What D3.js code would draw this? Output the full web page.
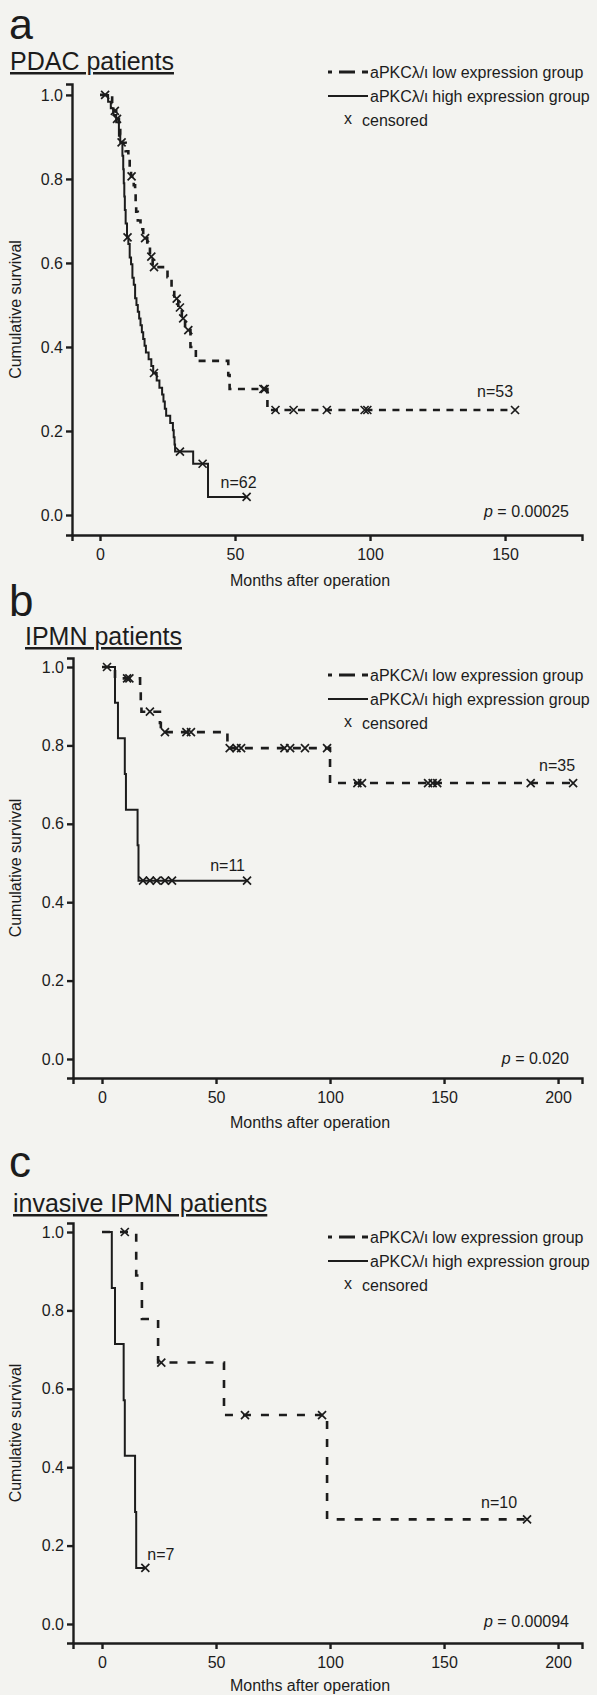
<!DOCTYPE html>
<html>
<head>
<meta charset="utf-8">
<script src="https://cdn.jsdelivr.net/npm/d3@7"></script>
<style>
  body { margin: 0; background: #f3f3f0; }
  svg { display: block; }
  text { font-family: Arial, "Liberation Sans", sans-serif; fill: #1c1c1c; }
  .axis path, .axis line { stroke: #1c1c1c; stroke-width: 2.4; }
  .axis text { font-size: 16px; }
</style>
</head>
<body>
<div id="chart"></div>
<script>
// ---- data ----
var panelLetters = ["a", "b", "c"];
var panelTitles = ["PDAC patients", "IPMN patients", "invasive IPMN patients"];
var pValues = ["0.00025", "0.020", "0.00094"];
var nLow = ["n=53", "n=35", "n=10"];
var nHigh = ["n=62", "n=11", "n=7"];
var xTicksA = [0, 50, 100, 150];
var xTicksBC = [0, 50, 100, 150, 200];
var yTicks = [0, 0.2, 0.4, 0.6, 0.8, 1.0];
var legendLabels = ["aPKC\u03bb/\u03b9 low expression group", "aPKC\u03bb/\u03b9 high expression group", "censored"];

// step curves: [month, survival after the step]
var pdacLow = [[0, 1.0], [4.5, 0.981], [5, 0.962], [6, 0.943], [7, 0.924], [7.5, 0.905], [8, 0.886],
  [9.5, 0.866], [10.5, 0.846], [11, 0.826], [11.5, 0.806], [12.5, 0.785], [13, 0.764], [13.2, 0.743],
  [13.4, 0.722], [14, 0.701], [15, 0.680], [16, 0.659], [17.5, 0.637], [18.5, 0.615], [19.5, 0.590],
  [25, 0.566], [26.5, 0.541], [27.5, 0.515], [29, 0.494], [30.3, 0.468], [31.5, 0.440], [33.5, 0.400],
  [35.5, 0.367], [47.5, 0.333], [48, 0.300], [62, 0.250]];
var pdacLowCensor = [1.9, 5.5, 6.3, 11.7, 16.7, 19, 20, 28.4, 29.6, 30.8, 32.7, 60.5, 61, 65, 71.7, 84, 98, 99, 153.7];
var pdacHigh = [[0, 1.0], [3, 0.984], [4, 0.968], [5, 0.952], [6, 0.935], [7, 0.903], [7.5, 0.887],
  [8.3, 0.855], [8.6, 0.823], [8.8, 0.790], [9.0, 0.758], [9.2, 0.726], [9.5, 0.694], [10, 0.661],
  [10.5, 0.645], [11, 0.613], [11.5, 0.597], [12, 0.565], [12.5, 0.548], [13, 0.516], [13.5, 0.500],
  [14, 0.484], [14.5, 0.468], [15, 0.452], [15.5, 0.435], [16, 0.419], [16.5, 0.403], [17, 0.387],
  [18, 0.371], [19, 0.355], [19.7, 0.338], [21, 0.320], [22, 0.303], [23, 0.287], [23.5, 0.270],
  [24, 0.253], [24.5, 0.236], [26, 0.219], [27, 0.202], [27.3, 0.185], [27.6, 0.168], [27.8, 0.151],
  [34.5, 0.122], [40, 0.043]];
var pdacHighCensor = [8, 10.2, 20, 29.6, 38, 54.3];

var ipmnLow = [[0, 1.0], [5.7, 0.971], [16.7, 0.943], [17, 0.914], [17.3, 0.886], [25.4, 0.857],
  [25.8, 0.834], [55, 0.793], [100, 0.704]];
var ipmnLowCensor = [2.2, 11, 12, 21, 27.6, 37, 39, 56, 59, 61, 80, 82.5, 89, 98.7, 112, 114, 143, 145, 147, 188, 206.6];
var ipmnHigh = [[0, 1.0], [5.7, 0.909], [7, 0.818], [10, 0.727], [10.5, 0.636], [15.6, 0.545], [16, 0.455]];
var ipmnHighCensor = [18, 21, 24, 27.6, 30.7, 63.6];

var invLow = [[0, 1.0], [15, 0.889], [17.5, 0.778], [24.6, 0.667], [53.5, 0.533], [98.7, 0.267]];
var invLowCensor = [10, 26, 62.7, 96.5, 186.4];
var invHigh = [[0, 1.0], [4.3, 0.857], [5.7, 0.714], [9.5, 0.571], [10, 0.429], [14.5, 0.286], [15, 0.143]];
var invHighCensor = [19];

// ---- layout ----
var svg = d3.select("#chart").append("svg")
  .attr("width", 597)
  .attr("height", 1695);

svg.append("rect").attr("width", 597).attr("height", 1695).attr("fill", "#f3f3f0");

var panels = [
  { letterY: 39, letterSize: 43, titleY: 70, xDom: [-10.37, 178.5], xRange: [72, 582], yRange: [535, 84], yDom: [-0.0476, 1.026],
    xTicks: xTicksA, low: pdacLow, lowC: pdacLowCensor, high: pdacHigh, highC: pdacHighCensor,
    dash: "7,6.5", titleX: 10, legendY: 72, xLabelY: 586, pGap: 18,
    nLowPos: { dx: -2, dy: -13, anchor: "end" }, nHighPos: { dx: 10, dy: -9, anchor: "end" } },
  { letterY: 616, letterSize: 44, titleY: 645, xDom: [-12.72, 210.5], xRange: [73, 582], yRange: [1078, 658], yDom: [-0.0485, 1.023],
    xTicks: xTicksBC, low: ipmnLow, lowC: ipmnLowCensor, high: ipmnHigh, highC: ipmnHighCensor,
    dash: "8,8", titleX: 25, legendY: 675, xLabelY: 1128, pGap: 14,
    nLowPos: { dx: 2, dy: -12, anchor: "end" }, nHighPos: { dx: -2, dy: -10, anchor: "end" } },
  { letterY: 1177, letterSize: 44, titleY: 1212, xDom: [-12.72, 210.5], xRange: [73, 582], yRange: [1643, 1223], yDom: [-0.0485, 1.023],
    xTicks: xTicksBC, low: invLow, lowC: invLowCensor, high: invHigh, highC: invHighCensor,
    dash: "8,10", titleX: 13, legendY: 1237, xLabelY: 1691, pGap: 16,
    nLowPos: { dx: -10, dy: -11, anchor: "end" }, nHighPos: { dx: 2, dy: -8, anchor: "start" } }
];

// survival value of a step curve at time t
function survAt(curve, t) {
  var s = curve[0][1];
  curve.forEach(function(d) { if (d[0] <= t) s = d[1]; });
  return s;
}

// turn event list into step path points, ending at last time
function stepPoints(curve, endT) {
  var pts = [];
  curve.forEach(function(d, i) {
    if (i > 0) pts.push([d[0], curve[i - 1][1]]);
    pts.push(d);
  });
  pts.push([endT, curve[curve.length - 1][1]]);
  return pts;
}

function crossPath(size) {
  return "M" + (-size) + "," + (-size) + "L" + size + "," + size +
         "M" + (-size) + "," + size + "L" + size + "," + (-size);
}

panels.forEach(function(p, i) {
  var g = svg.append("g");
  var x = d3.scaleLinear().domain(p.xDom).range(p.xRange);
  var y = d3.scaleLinear().domain(p.yDom).range(p.yRange);

  // panel letter and title
  g.append("text")
    .attr("x", 9)
    .attr("y", p.letterY)
    .style("font-size", p.letterSize + "px")
    .text(panelLetters[i]);

  g.append("text")
    .attr("x", p.titleX)
    .attr("y", p.titleY)
    .style("font-size", "25px")
    .style("text-decoration", "underline")
    .text(panelTitles[i]);

  // axes
  g.append("g")
    .attr("class", "axis")
    .attr("transform", "translate(0," + p.yRange[0] + ")")
    .call(d3.axisBottom(x).tickValues(p.xTicks).tickFormat(d3.format("d"))
      .tickSizeOuter(0).tickSize(6).tickPadding(8));

  g.append("g")
    .attr("class", "axis")
    .attr("transform", "translate(" + p.xRange[0] + ",0)")
    .call(d3.axisLeft(y).tickValues(yTicks).tickFormat(d3.format(".1f"))
      .tickSizeOuter(0).tickSize(6).tickPadding(3));

  g.selectAll(".axis text").style("font-size", "16px");

  // axis labels
  g.append("text")
    .attr("x", 310)
    .attr("y", p.xLabelY)
    .attr("text-anchor", "middle")
    .style("font-size", "16px")
    .text("Months after operation");

  g.append("text")
    .attr("transform", "translate(21," + ((p.yRange[0] + p.yRange[1]) / 2) + ") rotate(-90)")
    .attr("text-anchor", "middle")
    .style("font-size", "16px")
    .text("Cumulative survival");

  var line = d3.line().x(function(d) { return x(d[0]); }).y(function(d) { return y(d[1]); });

  var lowEnd = d3.max(p.lowC);
  var highEnd = d3.max(p.highC);

  // low expression (dashed)
  g.append("path")
    .datum(stepPoints(p.low, lowEnd))
    .attr("d", line)
    .attr("fill", "none")
    .attr("stroke", "#1c1c1c")
    .attr("stroke-width", 2.6)
    .attr("stroke-dasharray", p.dash);

  // high expression (solid)
  g.append("path")
    .datum(stepPoints(p.high, highEnd))
    .attr("d", line)
    .attr("fill", "none")
    .attr("stroke", "#1c1c1c")
    .attr("stroke-width", 2);

  // censor marks
  [[p.lowC, p.low], [p.highC, p.high]].forEach(function(c) {
    g.selectAll(null)
      .data(c[0])
      .enter()
      .append("path")
      .attr("transform", function(t) { return "translate(" + x(t) + "," + y(survAt(c[1], t)) + ")"; })
      .attr("d", crossPath(4))
      .attr("stroke", "#1c1c1c")
      .attr("stroke-width", 1.7)
      .attr("fill", "none");
  });

  // n labels
  var lowLastY = y(survAt(p.low, lowEnd));
  g.append("text")
    .attr("x", x(lowEnd) + p.nLowPos.dx)
    .attr("y", lowLastY + p.nLowPos.dy)
    .attr("text-anchor", p.nLowPos.anchor)
    .style("font-size", "16px")
    .text(nLow[i]);

  var highLastY = y(survAt(p.high, highEnd));
  g.append("text")
    .attr("x", x(highEnd) + p.nHighPos.dx)
    .attr("y", highLastY + p.nHighPos.dy)
    .attr("text-anchor", p.nHighPos.anchor)
    .style("font-size", "16px")
    .text(nHigh[i]);

  // p value
  var pText = g.append("text")
    .attr("x", 569)
    .attr("y", p.yRange[0] - p.pGap)
    .attr("text-anchor", "end")
    .style("font-size", "16px");
  pText.append("tspan").style("font-style", "italic").text("p");
  pText.append("tspan").text(" = " + pValues[i]);

  // legend
  var lg = g.append("g").attr("transform", "translate(0," + p.legendY + ")");
  lg.append("line")
    .attr("x1", 328).attr("x2", 368).attr("y1", 0).attr("y2", 0)
    .attr("stroke", "#1c1c1c").attr("stroke-width", 3)
    .attr("stroke-dasharray", "4,7,16,7,6");
  lg.append("line")
    .attr("x1", 328).attr("x2", 368).attr("y1", 24).attr("y2", 24)
    .attr("stroke", "#1c1c1c").attr("stroke-width", 2);
  lg.append("text").attr("x", 344).attr("y", 52).style("font-size", "16px").text("x");
  lg.selectAll(".lab")
    .data(legendLabels)
    .enter()
    .append("text")
    .attr("x", function(d, k) { return k === 2 ? 362 : 370; })
    .attr("y", function(d, k) { return k * 24 + 6; })
    .style("font-size", "16px")
    .text(function(d) { return d; });
});
</script>
</body>
</html>
